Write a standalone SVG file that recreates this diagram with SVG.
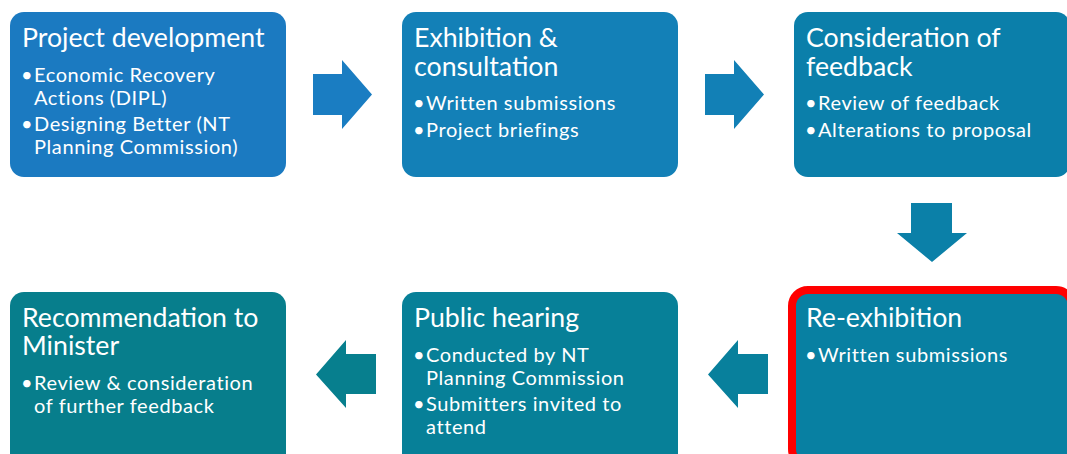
<svg xmlns="http://www.w3.org/2000/svg" width="1067" height="454" viewBox="0 0 1067 454">
<style>
.t{font-family:Lato,"Open Sans","Liberation Sans",sans-serif;font-size:26.7px;fill:#fff}
.b{font-family:Lato,"Open Sans","Liberation Sans",sans-serif;font-size:20px;letter-spacing:0.6px;fill:#fff}
</style>
<rect width="1067" height="454" fill="#fff"/>
<g id="connectors">
<polygon id="a1" points="313,74 342,74 342,60 372,94.5 342,129 342,115 313,115" fill="#1A7DC2"/>
<polygon id="a2" points="705,74 734,74 734,60 764,94.5 734,129 734,115 705,115" fill="#1280B6"/>
<polygon id="a3" points="911,203 952,203 952,233 967,233 932,262 897,233 911,233" fill="#0B80A8"/>
<polygon id="a4" points="768,354 738,354 738,340 708,374.5 738,408 738,394 768,394" fill="#08809C"/>
<polygon id="a5" points="376,354 346,354 346,340 316,374.5 346,408 346,394 376,394" fill="#077F8E"/>
</g>
<g id="n1">
<rect x="10" y="12" width="276" height="165" rx="14" fill="#1B7AC1"/>
<text class="t" x="22" y="47">Project development</text>
<text class="b" x="21" y="82">•</text><text class="b" x="34" y="82">Economic Recovery</text>
<text class="b" x="34" y="105">Actions (DIPL)</text>
<text class="b" x="21" y="131">•</text><text class="b" x="34" y="131">Designing Better (NT</text>
<text class="b" x="34" y="154">Planning Commission)</text>
</g>
<g id="n2">
<rect x="402" y="12" width="276" height="165" rx="14" fill="#1380B7"/>
<text class="t" x="414" y="47">Exhibition &amp;</text>
<text class="t" x="414" y="76">consultation</text>
<text class="b" x="413" y="110">•</text><text class="b" x="426" y="110">Written submissions</text>
<text class="b" x="413" y="137">•</text><text class="b" x="426" y="137">Project briefings</text>
</g>
<g id="n3">
<rect x="794" y="12" width="276" height="165" rx="14" fill="#0B7FAA"/>
<text class="t" x="806" y="47">Consideration of</text>
<text class="t" x="806" y="76">feedback</text>
<text class="b" x="805" y="110">•</text><text class="b" x="818" y="110">Review of feedback</text>
<text class="b" x="805" y="137">•</text><text class="b" x="818" y="137">Alterations to proposal</text>
</g>
<g id="n4">
<rect x="792" y="290" width="280" height="175" rx="16" fill="#0880A2" stroke="#FF0000" stroke-width="8"/>
<text class="t" x="806" y="327">Re-exhibition</text>
<text class="b" x="805" y="362">•</text><text class="b" x="818" y="362">Written submissions</text>
</g>
<g id="n5">
<rect x="402" y="292" width="276" height="175" rx="14" fill="#078098"/>
<text class="t" x="414" y="327">Public hearing</text>
<text class="b" x="413" y="362">•</text><text class="b" x="426" y="362">Conducted by NT</text>
<text class="b" x="426" y="385">Planning Commission</text>
<text class="b" x="413" y="411">•</text><text class="b" x="426" y="411">Submitters invited to</text>
<text class="b" x="426" y="434">attend</text>
</g>
<g id="n6">
<rect x="10" y="292" width="276" height="175" rx="14" fill="#077E8C"/>
<text class="t" x="22" y="327">Recommendation to</text>
<text class="t" x="22" y="355">Minister</text>
<text class="b" x="21" y="390">•</text><text class="b" x="34" y="390">Review &amp; consideration</text>
<text class="b" x="34" y="413">of further feedback</text>
</g>
</svg>
